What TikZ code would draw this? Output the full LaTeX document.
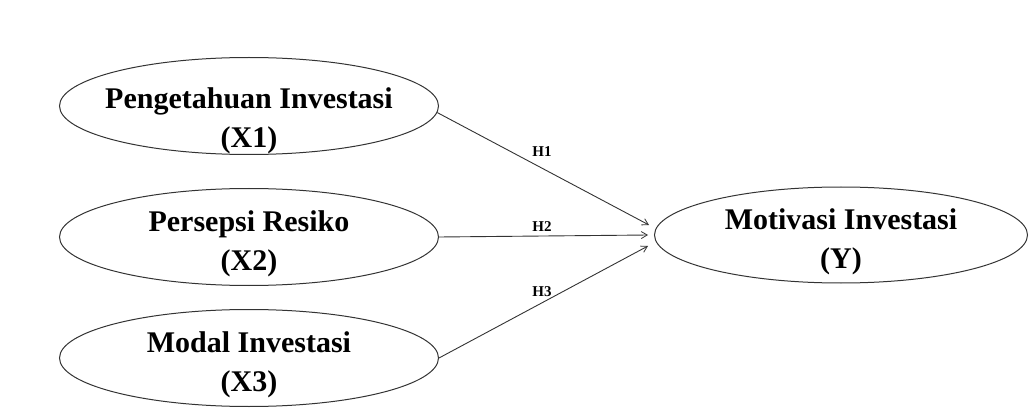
\documentclass[tikz,border=0pt]{standalone}
\usepackage{fontspec}
\setmainfont{Liberation Serif}
\usetikzlibrary{shapes.geometric,arrows.meta,calc}
\begin{document}
\begin{tikzpicture}[x=1pt,y=-1pt,
  construct/.style={draw=black!80, line width=1pt, ellipse, inner sep=0pt,
    minimum width=379pt, minimum height=97pt},
  caption/.style={align=center, inner sep=0pt,
    font=\bfseries\fontsize{30}{38.5}\selectfont},
  path/.style={draw=black!80, line width=0.9pt,
    -{Straight Barb[length=6pt,width=7pt,line width=0.8pt]}},
  hlabel/.style={font=\bfseries\fontsize{15}{16}\selectfont, inner sep=0pt}]
  \useasboundingbox (0,0) rectangle (1029,417);
  % latent constructs
  \node[construct] (x1) at (249,106) {};
  \node[construct] (x2) at (249,237) {};
  \node[construct] (x3) at (249,358) {};
  \node[construct, minimum width=373pt, minimum height=96pt] (y) at (841,235) {};
  % construct names
  \node[caption] (x1t) at ($(x1)+(0,15)$) {Pengetahuan Investasi\\(X1)};
  \node[caption] (x2t) at ($(x2)+(0,7)$) {Persepsi Resiko\\(X2)};
  \node[caption] (x3t) at ($(x3)+(0,7)$) {Modal Investasi\\(X3)};
  \node[caption] (yt) at ($(y)+(0,7)$) {Motivasi Investasi\\(Y)};
  % hypothesised paths
  \coordinate (e1) at ($(y.west)+(-5,-10)$);
  \coordinate (e2) at ($(y.west)+(-6,0)$);
  \coordinate (e3) at ($(y.west)+(-6,11)$);
  \draw[path] (x1.-2) -- (e1);
  \draw[path] (x2.east) -- (e2);
  \draw[path] (x3.east) -- (e3);
  \node[hlabel] (h1) at (542,152) {H1};
  \node[hlabel] (h2) at (542,227) {H2};
  \node[hlabel] (h3) at (542,292) {H3};
\end{tikzpicture}
\end{document}
